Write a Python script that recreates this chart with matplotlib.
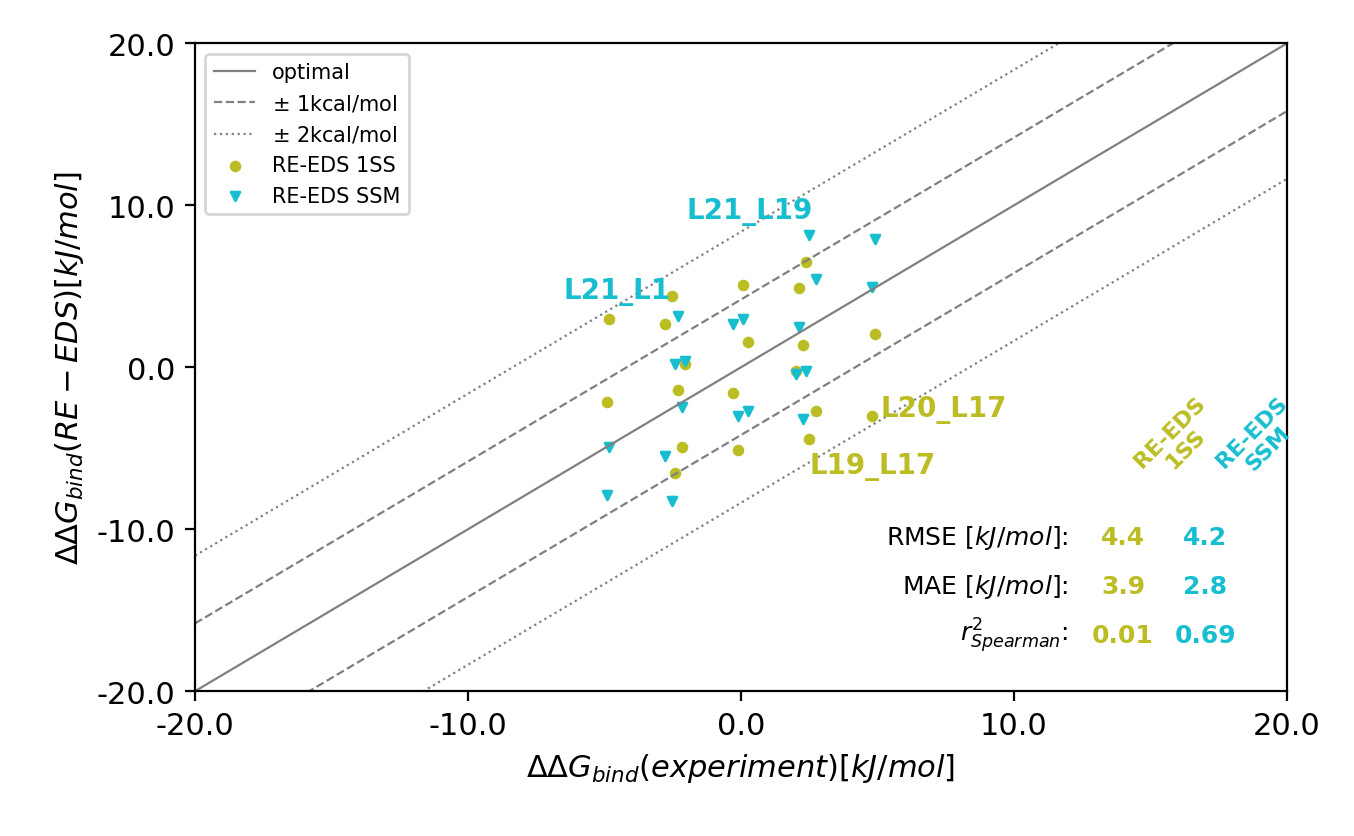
import numpy as np
import matplotlib.pyplot as plt

exp_1ss = [-4.84, -2.53, -2.78, -2.05, -2.31, -4.91, 0.07, 0.26, -0.29, 2.38,
           2.12, 2.27, 2.01, 2.75, 2.49, 4.91, 4.80, -2.16, -2.42, -0.11]
calc_1ss = [2.96, 4.38, 2.65, 0.19, -1.42, -2.16, 5.06, 1.54, -1.60, 6.48,
            4.88, 1.36, -0.25, -2.72, -4.44, 2.04, -3.02, -4.94, -6.54, -5.12]
exp_ssm = [2.49, 4.91, 2.75, 4.80, -2.31, -0.29, 0.07, 2.12, -2.42, -2.05,
           2.01, 2.38, -2.16, -0.11, 0.26, 2.27, -4.84, -2.78, -4.91, -2.53]
calc_ssm = [8.15, 7.90, 5.43, 4.94, 3.15, 2.65, 2.96, 2.47, 0.19, 0.37,
            -0.43, -0.25, -2.47, -3.02, -2.72, -3.21, -4.94, -5.49, -7.90, -8.27]

c1 = "#bcbd22"
c2 = "#17becf"
kcal = 4.184

fig = plt.figure(figsize=(6.77, 4.185), dpi=200)
ax = fig.add_axes([0.144, 0.173, 0.8065, 0.774])
line = np.array([-20, 20])
ax.plot(line, line, color="grey", lw=0.8, label="optimal")
ax.plot(line, line + kcal, color="grey", lw=0.8, ls="--", label=r"$\pm$ 1kcal/mol")
ax.plot(line, line - kcal, color="grey", lw=0.8, ls="--")
ax.plot(line, line + 2 * kcal, color="grey", lw=0.8, ls=":", label=r"$\pm$ 2kcal/mol")
ax.plot(line, line - 2 * kcal, color="grey", lw=0.8, ls=":")
ax.scatter(exp_1ss, calc_1ss, s=10, color=c1, label="RE-EDS 1SS")
ax.scatter(exp_ssm, calc_ssm, s=10, color=c2, marker="v", label="RE-EDS SSM")

ax.text(-6.5, 4.3, "L21_L1", color=c2, fontsize=10, fontweight="bold")
ax.text(-2.0, 9.2, "L21_L19", color=c2, fontsize=10, fontweight="bold")
ax.text(5.1, -3.0, "L20_L17", color=c1, fontsize=10, fontweight="bold")
ax.text(2.5, -6.5, "L19_L17", color=c1, fontsize=10, fontweight="bold")

ax.text(16.0, -4.5, "RE-EDS\n1SS", color=c1, fontsize=8, fontweight="bold",
        rotation=45, ha="center", va="center")
ax.text(19.0, -4.5, "RE-EDS\nSSM", color=c2, fontsize=8, fontweight="bold",
        rotation=45, ha="center", va="center")
rows = [(r"RMSE $[kJ/mol]$:", "4.4", "4.2"),
        (r"MAE $[kJ/mol]$:", "3.9", "2.8"),
        (r"$r^2_{Spearman}$:", "0.01", "0.69")]
for i, (lab, v1, v2) in enumerate(rows):
    yy = -10.5 - 3.0 * i
    ax.text(12.0, yy, lab, fontsize=9, ha="right", va="center")
    ax.text(14.0, yy, v1, color=c1, fontsize=9, fontweight="bold", ha="center", va="center")
    ax.text(17.0, yy, v2, color=c2, fontsize=9, fontweight="bold", ha="center", va="center")

ax.set_xlim(-20, 20)
ax.set_ylim(-20, 20)
ticks = [-20, -10, 0, 10, 20]
ax.set_xticks(ticks)
ax.set_xticklabels([f"{t:.1f}" for t in ticks], fontsize=11)
ax.set_yticks(ticks)
ax.set_yticklabels([f"{t:.1f}" for t in ticks], fontsize=11)
ax.set_xlabel(r"$\Delta\Delta G_{bind}(experiment) [kJ/mol]$", fontsize=11)
ax.set_ylabel(r"$\Delta\Delta G_{bind}(RE-EDS) [kJ/mol]$", fontsize=11)
ax.legend(loc="upper left", fontsize=7.5)

fig.savefig("out.png", dpi=200)
